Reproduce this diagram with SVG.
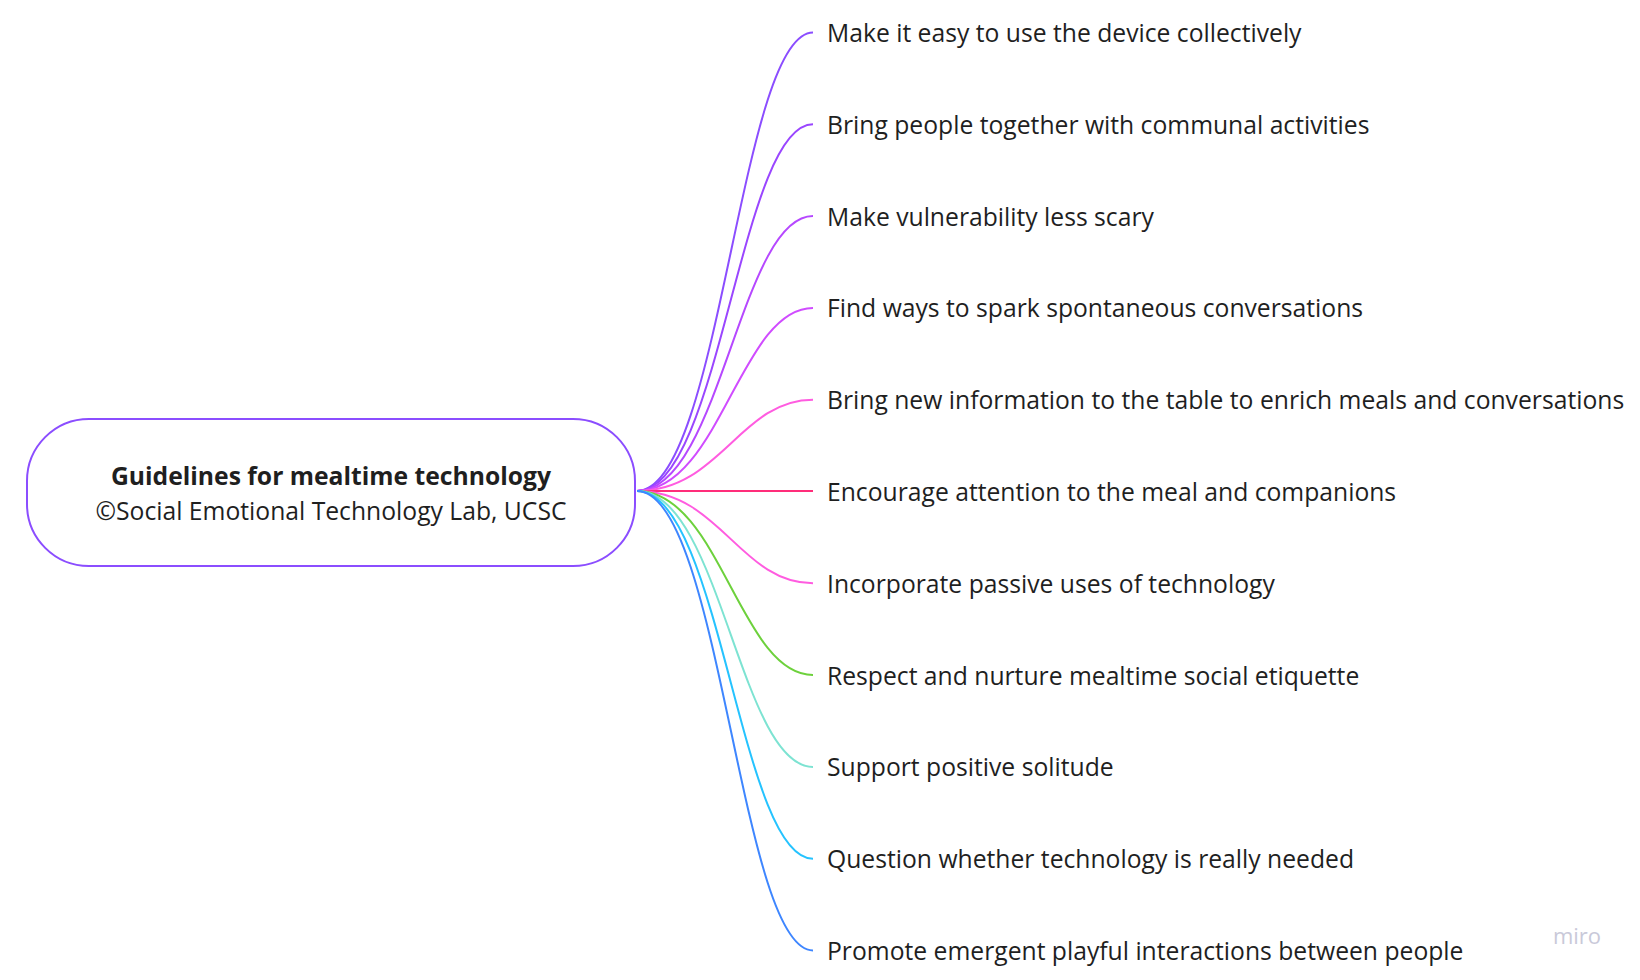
<svg xmlns="http://www.w3.org/2000/svg" width="1640" height="980" viewBox="0 0 1640 980">
<style>
.t{font-family:"Open Sans","Liberation Sans",sans-serif;font-size:24.7px;fill:#1f1f1f;dominant-baseline:central}
.c{fill:none;stroke-width:2}
</style>
<rect width="1640" height="980" fill="#fff"/>
<g id="connectors">
<path class="c" stroke="#8b4dff" d="M637,491 C720,491 740,32.5 813,32.5"/>
<path class="c" stroke="#9a46ff" d="M637,491 C720,491 740,124.3 813,124.3"/>
<path class="c" stroke="#b648ff" d="M637,491 C720,491 740,216.1 813,216.1"/>
<path class="c" stroke="#d04cff" d="M637,491 C720,491 740,307.9 813,307.9"/>
<path class="c" stroke="#ff5ce0" d="M637,491 C720,491 740,399.7 813,399.7"/>
<path class="c" stroke="#ff2d7a" d="M637,491 L813,491"/>
<path class="c" stroke="#ff5ce0" d="M637,491 C720,491 740,583.3 813,583.3"/>
<path class="c" stroke="#6dd13c" d="M637,491 C720,491 740,675.1 813,675.1"/>
<path class="c" stroke="#7de3d2" d="M637,491 C720,491 740,766.9 813,766.9"/>
<path class="c" stroke="#25c3ff" d="M637,491 C720,491 740,858.7 813,858.7"/>
<path class="c" stroke="#3e86ff" d="M637,491 C720,491 740,950.5 813,950.5"/>
</g>
<g id="root">
<rect x="27" y="419" width="608" height="147" rx="62" fill="#fff" stroke="#8b4dff" stroke-width="2"/>
<text class="t" x="331" y="475" text-anchor="middle" font-weight="bold">Guidelines for mealtime technology</text>
<text class="t" x="331" y="510" text-anchor="middle">©Social Emotional Technology Lab, UCSC</text>
</g>
<g id="n1"><text class="t" x="827" y="32.5">Make it easy to use the device collectively</text></g>
<g id="n2"><text class="t" x="827" y="124.3">Bring people together with communal activities</text></g>
<g id="n3"><text class="t" x="827" y="216.1">Make vulnerability less scary</text></g>
<g id="n4"><text class="t" x="827" y="307.9">Find ways to spark spontaneous conversations</text></g>
<g id="n5"><text class="t" x="827" y="399.7">Bring new information to the table to enrich meals and conversations</text></g>
<g id="n6"><text class="t" x="827" y="491.5">Encourage attention to the meal and companions</text></g>
<g id="n7"><text class="t" x="827" y="583.3">Incorporate passive uses of technology</text></g>
<g id="n8"><text class="t" x="827" y="675.1">Respect and nurture mealtime social etiquette</text></g>
<g id="n9"><text class="t" x="827" y="766.9">Support positive solitude</text></g>
<g id="n10"><text class="t" x="827" y="858.7">Question whether technology is really needed</text></g>
<g id="n11"><text class="t" x="827" y="950.5">Promote emergent playful interactions between people</text></g>
<text x="1577" y="935" text-anchor="middle" font-family="'Open Sans','Liberation Sans',sans-serif" font-size="22" fill="#c9c9d9" dominant-baseline="central">miro</text>
</svg>
